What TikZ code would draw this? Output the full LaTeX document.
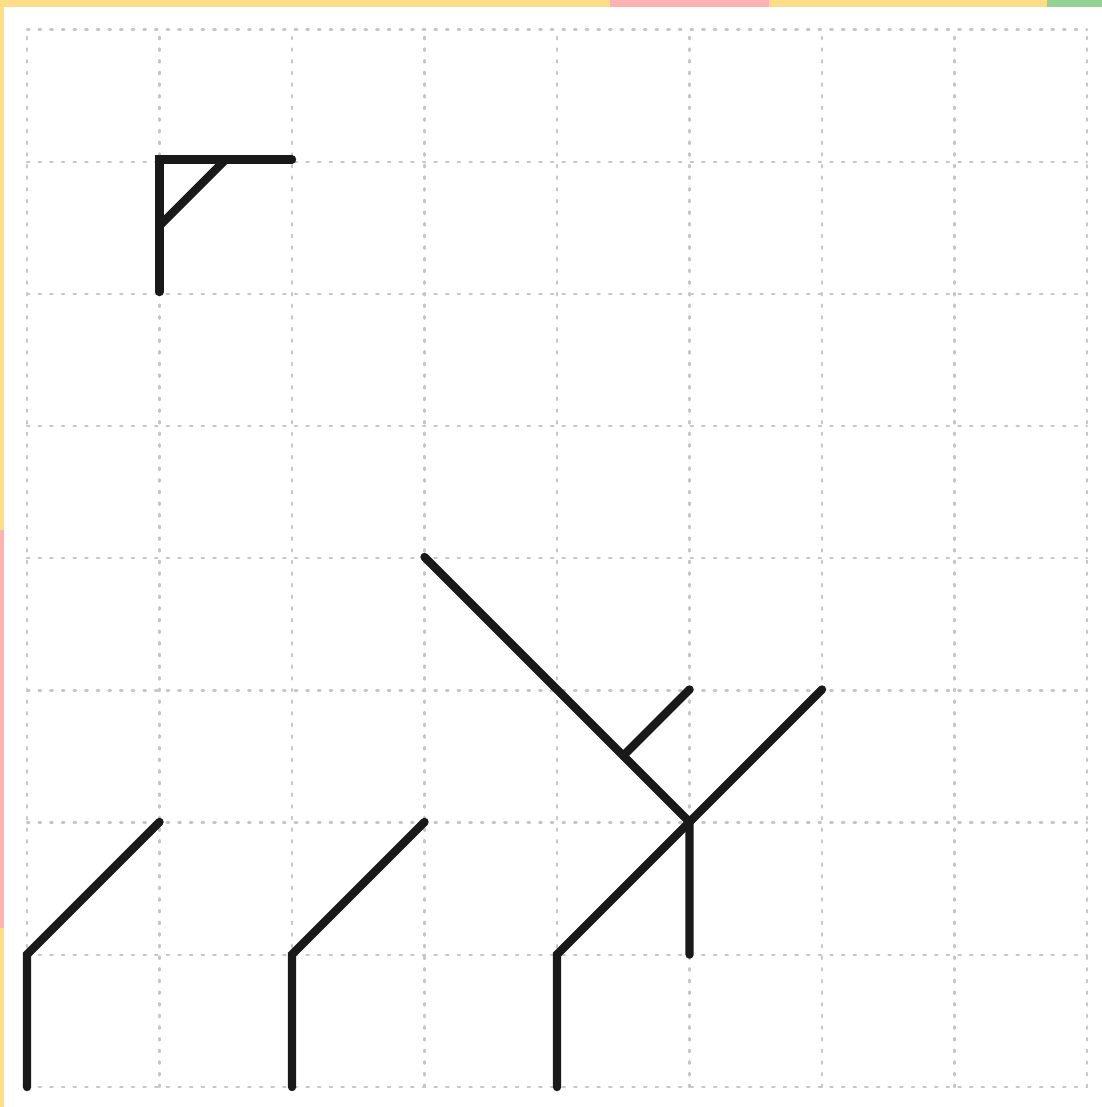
\documentclass[tikz,border=0pt]{standalone}
\begin{document}
\begin{tikzpicture}[line cap=round,
  gridline/.style={dotted, gray!45, line width=0.5pt},
  stroke/.style={line width=1.8pt, black!90}]
\useasboundingbox (-0.204,-0.151) rectangle (8.113,8.204);
\fill[white] (-0.204,-0.151) rectangle (8.113,8.204);
% page edge
\fill[yellow!50!orange!45] (-0.204,-0.151) rectangle (-0.175,8.204);
\fill[yellow!50!orange!45] (-0.204,8.15) rectangle (8.113,8.204);
\fill[red!30] (-0.204,1.2) rectangle (-0.175,4.2);
\fill[red!30] (4.4,8.15) rectangle (5.6,8.204);
\fill[green!40!gray!60] (7.7,8.15) rectangle (8.113,8.204);
% grid
\foreach \i in {0,...,8} {
  \draw[gridline] (\i,0) -- (\i,7.98);
  \draw[gridline] (0,\i*0.9975) -- (8,\i*0.9975);
}
% first figure
\coordinate (c1) at (1,7);
\coordinate (c2) at (2,7);
\coordinate (c3) at (1,6);
\coordinate (c4) at (1,6.5);
\coordinate (c5) at (1.5,7);
\draw[stroke] (c2) -- (c1) -- (c3);
\draw[stroke] (c4) -- (c5);
% two small figures
\coordinate (a0) at (0,0);
\coordinate (a1) at (0,1);
\coordinate (a2) at (1,2);
\draw[stroke] (a0) -- (a1) -- (a2);
\coordinate (b0) at (2,0);
\coordinate (b1) at (2,1);
\coordinate (b2) at (3,2);
\draw[stroke] (b0) -- (b1) -- (b2);
% big figure
\coordinate (t0) at (4,0);
\coordinate (t1) at (4,1);
\coordinate (t2) at (6,3);
\coordinate (u0) at (3,4);
\coordinate (u1) at (5,2);
\coordinate (u2) at (5,1);
\coordinate (v0) at (4.5,2.5);
\coordinate (v1) at (5,3);
\draw[stroke] (t0) -- (t1) -- (t2);
\draw[stroke] (u0) -- (u1) -- (u2);
\draw[stroke] (v0) -- (v1);
\end{tikzpicture}
\end{document}
